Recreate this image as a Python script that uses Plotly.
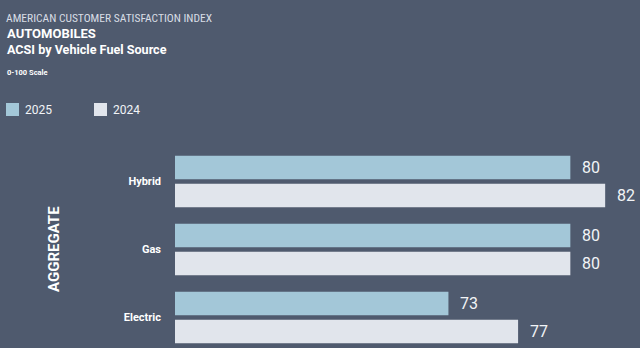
import plotly.graph_objects as go

categories = ["Hybrid", "Gas", "Electric"]
values_2025 = [80, 80, 73]
values_2024 = [82, 80, 77]
series_names = ["2025", "2024"]

BG = "#4f5a6e"
C2025 = "#a3c7d8"
C2024 = "#e1e5ec"
FONT = "Roboto, Liberation Sans, Arial, sans-serif"
NARROW = "Liberation Sans Narrow, Roboto Condensed, Roboto, sans-serif"

L, T, W, H = 175, 140, 640, 348
PW, PH = W - L, H - T

fig = go.Figure()
fig.add_trace(go.Bar(y=categories, x=values_2025, name=series_names[0], orientation="h",
                     marker=dict(color=C2025, line=dict(width=0)), hoverinfo="skip"))
fig.add_trace(go.Bar(y=categories, x=values_2024, name=series_names[1], orientation="h",
                     marker=dict(color=C2024, line=dict(width=0)), hoverinfo="skip"))

annotations = []
for vals, ys in ((values_2025, 14), (values_2024, -14)):
    for c, v in zip(categories, vals):
        annotations.append(dict(x=v, y=c, xref="x", yref="y", text=str(v), showarrow=False,
                                xanchor="left", yanchor="middle", xshift=10, yshift=ys,
                                font=dict(family=FONT, size=16, color="#f2f4f7")))


def px_x(x):
    return (x - L) / PW


def px_y(y):
    return (H - y) / PH


def ptext(text, x_px, y_px, size, color, weight="normal", angle=0, xanchor="left", family=FONT):
    return dict(x=px_x(x_px), y=px_y(y_px), xref="paper", yref="paper",
                text=text, showarrow=False, xanchor=xanchor, yanchor="middle",
                textangle=angle,
                font=dict(family=family, size=size, color=color, weight=weight))


annotations += [
    ptext("AMERICAN CUSTOMER SATISFACTION INDEX", 4, 18, 11.5, "#d8dde5", family=NARROW),
    ptext("AUTOMOBILES", 5, 33, 13, "#ffffff", "bold"),
    ptext("ACSI by Vehicle Fuel Source", 5, 49, 12.6, "#ffffff", "bold"),
    ptext("0-100 Scale", 5, 72, 7.5, "#ffffff", "bold"),
    ptext("AGGREGATE", 54, 249, 15, "#ffffff", "bold", angle=-90, xanchor="center"),
]

# legend drawn as swatches + labels
shapes = []
legend_items = [(series_names[0], C2025, 6), (series_names[1], C2024, 94)]
for name, col, x0 in legend_items:
    shapes.append(dict(type="rect", xref="paper", yref="paper",
                       x0=px_x(x0), x1=px_x(x0 + 13), y0=px_y(116), y1=px_y(103),
                       fillcolor=col, line=dict(width=0)))
    annotations.append(ptext(name, x0 + 17, 110, 12, "#f2f4f7"))

fig.update_layout(
    width=W, height=H,
    margin=dict(l=L, r=0, t=T, b=0, autoexpand=False),
    paper_bgcolor=BG, plot_bgcolor=BG,
    barmode="group", bargap=0.176, bargroupgap=0.16,
    showlegend=False,
    xaxis=dict(range=[57.3, 84], visible=False, fixedrange=True, automargin=False),
    yaxis=dict(range=[2.449, -0.61], showgrid=False, zeroline=False, showline=False,
               ticks="", ticklabelstandoff=13, automargin=False,
               tickfont=dict(family=FONT, size=11, color="#ffffff", weight="bold"),
               fixedrange=True),
    annotations=annotations,
    shapes=shapes,
)

fig.write_html("out.html", config={"displayModeBar": False})
